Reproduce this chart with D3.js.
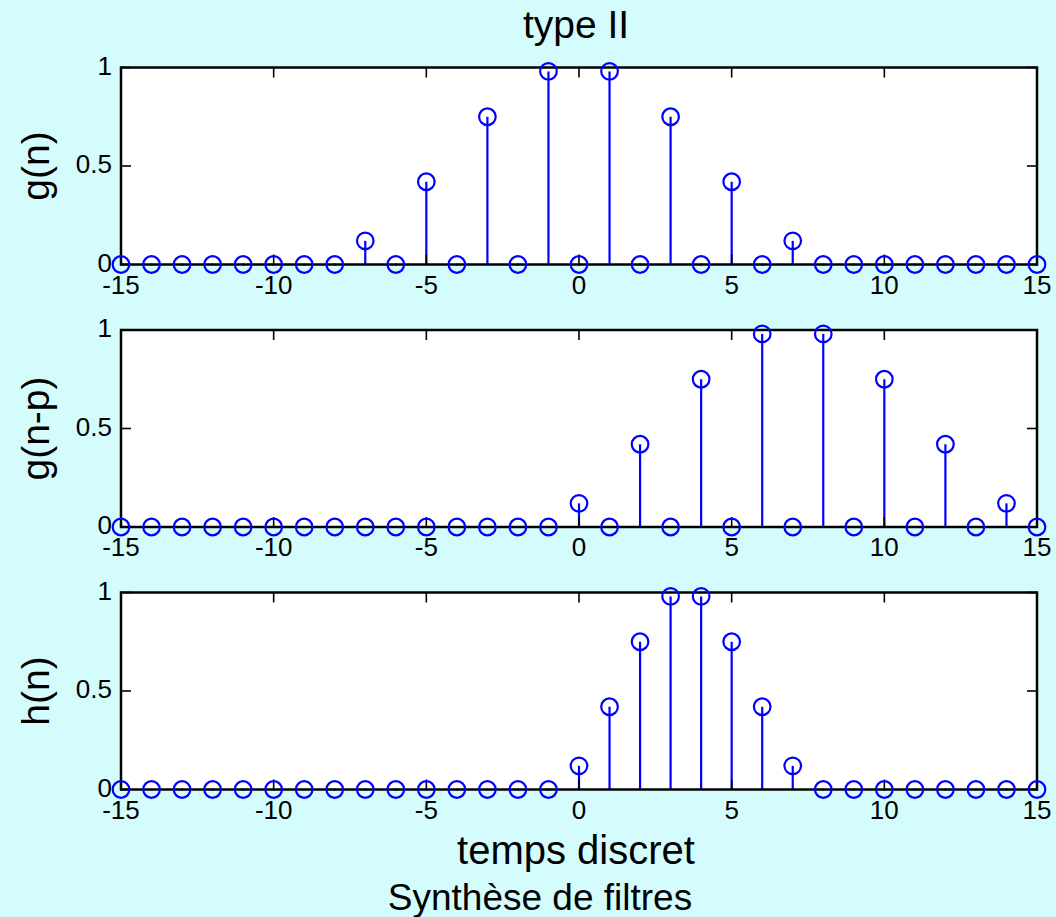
<!DOCTYPE html>
<html>
<head>
<meta charset="utf-8">
<script src="https://cdn.jsdelivr.net/npm/d3@7"></script>
<style>
  html, body { margin: 0; padding: 0; background: #d4fcfc; }
  svg { display: block; }
  text { font-family: "Liberation Sans", Arial, Helvetica, sans-serif; fill: #000; }
</style>
</head>
<body>
<svg id="chart" width="1056" height="917"></svg>
<script>
// Discrete time index
const nValues = [-15,-14,-13,-12,-11,-10,-9,-8,-7,-6,-5,-4,-3,-2,-1,0,1,2,3,4,5,6,7,8,9,10,11,12,13,14,15];

// g(n): prototype filter, non-zero on odd samples
const gValues = [0,0,0,0,0,0,0,0,0.12,0,0.42,0,0.75,0,0.98,0,0.98,0,0.75,0,0.42,0,0.12,0,0,0,0,0,0,0,0];
// g(n-p): prototype shifted by p = 7
const gShiftValues = [0,0,0,0,0,0,0,0,0,0,0,0,0,0,0,0.12,0,0.42,0,0.75,0,0.98,0,0.98,0,0.75,0,0.42,0,0.12,0];
// h(n): synthesized filter
const hValues = [0,0,0,0,0,0,0,0,0,0,0,0,0,0,0,0.12,0.42,0.75,0.98,0.98,0.75,0.42,0.12,0,0,0,0,0,0,0,0];

const xTicks = [-15,-10,-5,0,5,10,15];
const yTicks = [0,0.5,1];
const yLabels = ["g(n)", "g(n-p)", "h(n)"];
const panelSeries = [gValues, gShiftValues, hValues];

const titleText = "type II";
const xLabelText = "temps discret";
const captionText = "Synthèse de filtres";

const svg = d3.select("#chart");

const left = 121, right = 1037;
const panelTops = [67.5, 330, 592.5];
const panelH = 197;
const tickLen = 10;
const blue = "#0000ff";

const x = d3.scaleLinear().domain([-15, 15]).range([left, right]);

panelSeries.forEach((vals, i) => {
  const top = panelTops[i], bottom = top + panelH;
  const y = d3.scaleLinear().domain([0, 1]).range([bottom, top]);
  const g = svg.append("g");

  // plot area
  g.append("rect").attr("x", left).attr("y", top)
    .attr("width", right - left).attr("height", panelH).attr("fill", "#fff");

  const pts = nValues.map((n, k) => ({ n, v: vals[k] }));

  // stems
  g.selectAll("line.stem").data(pts.filter(d => d.v !== 0)).join("line")
    .attr("class", "stem")
    .attr("x1", d => x(d.n)).attr("x2", d => x(d.n))
    .attr("y1", y(0)).attr("y2", d => y(d.v))
    .attr("stroke", blue).attr("stroke-width", 2.2);

  // zero-length stems leave a dot at the marker centre
  g.selectAll("rect.dot").data(pts.filter(d => d.v === 0)).join("rect")
    .attr("class", "dot")
    .attr("x", d => x(d.n) - 1).attr("y", d => y(d.v) - 1)
    .attr("width", 2).attr("height", 2).attr("fill", "#1a1a80");

  // axes box and ticks
  const axG = g.append("g").attr("stroke", "#000");
  axG.append("rect").attr("x", left).attr("y", top)
    .attr("width", right - left).attr("height", panelH)
    .attr("fill", "none").attr("stroke-width", 2.5);

  xTicks.forEach(t => {
    axG.append("line").attr("x1", x(t)).attr("x2", x(t))
      .attr("y1", bottom).attr("y2", bottom - tickLen).attr("stroke-width", 1.6);
    axG.append("line").attr("x1", x(t)).attr("x2", x(t))
      .attr("y1", top).attr("y2", top + tickLen).attr("stroke-width", 1.6);
  });
  yTicks.forEach(t => {
    axG.append("line").attr("x1", left).attr("x2", left + tickLen)
      .attr("y1", y(t)).attr("y2", y(t)).attr("stroke-width", 1.6);
    axG.append("line").attr("x1", right).attr("x2", right - tickLen)
      .attr("y1", y(t)).attr("y2", y(t)).attr("stroke-width", 1.6);
  });

  // markers (open circles)
  g.selectAll("circle.mk").data(pts).join("circle")
    .attr("class", "mk")
    .attr("cx", d => x(d.n)).attr("cy", d => y(d.v))
    .attr("r", 8.3).attr("fill", "none")
    .attr("stroke", blue).attr("stroke-width", 2.2);

  // tick labels
  g.selectAll("text.xt").data(xTicks).join("text")
    .attr("class", "xt")
    .attr("x", d => x(d)).attr("y", bottom + 29)
    .attr("text-anchor", "middle").attr("font-size", 26)
    .text(d => d);
  g.selectAll("text.yt").data(yTicks).join("text")
    .attr("class", "yt")
    .attr("x", left - 9).attr("y", d => y(d) - 2)
    .attr("dy", "0.35em")
    .attr("text-anchor", "end").attr("font-size", 26)
    .text(d => d);

  // y label
  g.append("text")
    .attr("transform", `translate(49,${(top + bottom) / 2}) rotate(-90)`)
    .attr("text-anchor", "middle").attr("font-size", 39)
    .text(yLabels[i]);
});

svg.append("text").attr("x", 576).attr("y", 38)
  .attr("text-anchor", "middle").attr("font-size", 39).text(titleText);

svg.append("text").attr("x", 576).attr("y", 864)
  .attr("text-anchor", "middle").attr("font-size", 40).text(xLabelText);

svg.append("text").attr("x", 540).attr("y", 910)
  .attr("text-anchor", "middle").attr("font-size", 37).text(captionText);
</script>
</body>
</html>
